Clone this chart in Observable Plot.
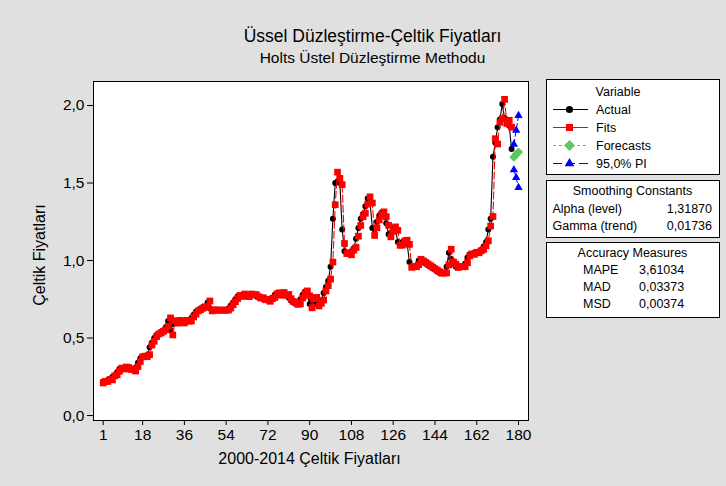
<!DOCTYPE html>
<html>
<head>
<meta charset="utf-8">
<script src="https://cdn.jsdelivr.net/npm/d3@7"></script>
<script src="https://cdn.jsdelivr.net/npm/@observablehq/plot@0.6"></script>
<style>
  html, body { margin: 0; padding: 0; background: #e0e0e0; }
  #wrap { position: relative; width: 726px; height: 486px; background: #e0e0e0; overflow: hidden;
          font-family: "Liberation Sans", Arial, sans-serif; color: #000; }
  .abs { position: absolute; white-space: nowrap; }
  #chart { position: absolute; left: 0; top: 0; }
  #legend { position: absolute; left: 0; top: 0; }
</style>
</head>
<body>
<div id="wrap">
  <div class="abs" style="left:0;width:745px;text-align:center;top:26px;font-size:17.5px;">Üssel Düzleştirme-Çeltik Fiyatları</div>
  <div class="abs" style="left:0;width:745px;text-align:center;top:49px;font-size:15.5px;">Holts Üstel Düzleştirme Methodu</div>
  <div id="chart"></div>
  <div class="abs" style="left:0;width:619px;text-align:center;top:450px;font-size:16px;">2000-2014 Çeltik Fiyatları</div>
  <div class="abs" style="left:40px;top:255px;font-size:16px;transform:translate(-50%,-50%) rotate(-90deg);">Çeltik Fiyatları</div>
  <svg id="legend" width="726" height="486"></svg>
</div>
<script>
// ---- data ----
const xTicks = [1, 18, 36, 54, 72, 90, 108, 126, 144, 162, 180];
const yTicks = [0, 0.5, 1.0, 1.5, 2.0];

const actual = [
  0.22,0.22,0.23,0.23,0.25,0.26,0.28,0.30,0.30,0.31,
  0.31,0.30,0.30,0.29,0.31,0.34,0.37,0.38,0.38,0.39,
  0.44,0.47,0.50,0.52,0.53,0.54,0.55,0.57,0.61,0.55,
  0.59,0.60,0.61,0.61,0.60,0.61,0.61,0.61,0.63,0.65,
  0.67,0.68,0.69,0.70,0.70,0.73,0.69,0.68,0.68,0.68,
  0.68,0.68,0.68,0.68,0.69,0.71,0.73,0.75,0.77,0.77,
  0.78,0.78,0.77,0.78,0.78,0.78,0.77,0.76,0.76,0.75,
  0.75,0.74,0.75,0.76,0.78,0.79,0.78,0.79,0.78,0.78,
  0.76,0.74,0.73,0.72,0.72,0.75,0.78,0.80,0.78,0.72,
  0.74,0.76,0.72,0.72,0.74,0.79,0.83,0.87,0.96,1.27,
  1.50,1.51,1.50,1.20,1.06,1.05,1.04,1.06,1.08,1.14,
  1.21,1.27,1.30,1.35,1.40,1.38,1.21,1.20,1.25,1.29,
  1.31,1.29,1.24,1.17,1.18,1.21,1.20,1.12,1.10,1.12,
  1.13,1.11,0.99,0.96,0.96,0.97,1.00,1.00,0.99,0.98,
  0.97,0.96,0.95,0.94,0.93,0.92,0.92,0.92,0.96,1.05,
  1.01,0.98,0.96,0.96,0.96,0.96,0.98,1.02,1.04,1.04,
  1.05,1.05,1.06,1.07,1.09,1.12,1.20,1.27,1.67,1.76,
  1.86,1.91,2.01,1.92,1.90,1.87,1.72
];

const fits = [
  0.21,0.22,0.22,0.233,0.23,0.256,0.263,0.286,0.306,0.30,
  0.313,0.31,0.297,0.30,0.287,0.316,0.349,0.379,0.383,0.38,
  0.393,0.455,0.479,0.509,0.526,0.533,0.543,0.553,0.576,0.63,
  0.52,0.612,0.596,0.614,0.609,0.597,0.614,0.609,0.61,0.636,
  0.654,0.675,0.682,0.692,0.702,0.699,0.739,0.675,0.682,0.68,
  0.68,0.68,0.68,0.68,0.68,0.693,0.715,0.735,0.755,0.775,
  0.768,0.784,0.779,0.767,0.784,0.78,0.78,0.767,0.758,0.76,
  0.747,0.75,0.737,0.754,0.762,0.785,0.792,0.776,0.794,0.776,
  0.781,0.754,0.736,0.728,0.717,0.721,0.759,0.787,0.804,0.772,
  0.695,0.754,0.762,0.707,0.724,0.745,0.804,0.838,0.88,0.99,
  1.36,1.57,1.53,1.49,1.11,1.045,1.05,1.037,1.067,1.084,
  1.157,1.226,1.283,1.305,1.364,1.411,1.371,1.162,1.211,1.262,
  1.298,1.314,1.283,1.227,1.153,1.188,1.217,1.195,1.098,1.10,
  1.126,1.131,1.104,0.956,0.962,0.96,0.973,1.008,0.998,0.988,
  0.978,0.968,0.958,0.948,0.938,0.928,0.918,0.92,0.92,0.972,
  1.073,0.991,0.977,0.955,0.962,0.96,0.96,0.986,1.03,1.043,
  1.04,1.053,1.05,1.063,1.072,1.095,1.127,1.222,1.284,1.786,
  1.752,1.892,1.915,2.04,1.884,1.905,1.86
];

const forecastIdx = [178, 179, 180];
const forecast = [1.667, 1.685, 1.70];
const upperPI = [1.75, 1.84, 1.935];
const lowerPI = [1.585, 1.535, 1.47];

const smoothingLabels = ["Alpha (level)", "Gamma (trend)"];
const smoothingValues = ["1,31870", "0,01736"];
const accuracyLabels = ["MAPE", "MAD", "MSD"];
const accuracyValues = ["3,61034", "0,03373", "0,00374"];

// ---- build tables ----
const actualData = actual.map((v, i) => ({t: i + 1, v}));
const fitsData = fits.map((v, i) => ({t: i + 1, v}));
const fcData = forecastIdx.map((t, i) => ({t, v: forecast[i]}));
const upData = forecastIdx.map((t, i) => ({t, v: upperPI[i]}));
const loData = forecastIdx.map((t, i) => ({t, v: lowerPI[i]}));

const GREEN = "#5ec85e";
const diamond = {
  draw(ctx, size) {
    const r = Math.sqrt(size / 2);
    ctx.moveTo(0, -r); ctx.lineTo(r, 0); ctx.lineTo(0, r); ctx.lineTo(-r, 0); ctx.closePath();
  }
};
const fmt = d => d.toFixed(1).replace(".", ",");

const chart = Plot.plot({
  width: 726,
  height: 486,
  marginLeft: 93,
  marginRight: 198,
  marginTop: 81,
  marginBottom: 66,
  style: {background: "transparent", fontFamily: '"Liberation Sans", Arial, sans-serif', fontSize: "15.5px", color: "black"},
  x: {domain: [-3.18, 184.31]},
  y: {domain: [-0.032, 2.155]},
  marks: [
    Plot.frame({fill: "white", stroke: "none"}),
    Plot.axisY({ticks: yTicks, tickFormat: fmt, tickSize: 6, tickPadding: 3, label: null}),
    Plot.axisX({ticks: xTicks, tickFormat: d => String(d), tickSize: 5, tickPadding: 3, label: null}),
    Plot.line(actualData, {x: "t", y: "v", stroke: "black", strokeWidth: 1.1}),
    Plot.dot(actualData, {x: "t", y: "v", fill: "black", stroke: "none", symbol: "circle", r: 3}),
    Plot.line(fitsData, {x: "t", y: "v", stroke: "red", strokeWidth: 1.1, strokeDasharray: "7,3"}),
    Plot.dot(fitsData, {x: "t", y: "v", fill: "red", stroke: "none", symbol: "square", r: 3.8}),
    Plot.line(fcData, {x: "t", y: "v", stroke: GREEN, strokeWidth: 1, strokeDasharray: "3,2"}),
    Plot.dot(fcData, {x: "t", y: "v", fill: GREEN, stroke: "none", symbol: diamond, r: 3.7}),
    Plot.line(upData, {x: "t", y: "v", stroke: "blue", strokeWidth: 1, strokeDasharray: "5,3"}),
    Plot.line(loData, {x: "t", y: "v", stroke: "blue", strokeWidth: 1, strokeDasharray: "5,3"}),
    Plot.dot(upData, {x: "t", y: "v", fill: "blue", stroke: "none", symbol: "triangle", r: 3.1}),
    Plot.dot(loData, {x: "t", y: "v", fill: "blue", stroke: "none", symbol: "triangle", r: 3.1}),
    Plot.frame({stroke: "black", strokeWidth: 1})
  ]
});
document.getElementById("chart").appendChild(chart);

// ---- legend boxes ----
const svg = d3.select("#legend");
const ff = '"Liberation Sans", Arial, sans-serif';
function box(x, y, w, h) {
  svg.append("rect").attr("x", x + 0.5).attr("y", y + 0.5).attr("width", w).attr("height", h)
    .attr("fill", "white").attr("stroke", "black").attr("stroke-width", 1);
}
function txt(x, y, s, anchor) {
  svg.append("text").attr("x", x).attr("y", y).attr("dy", "0.35em")
    .attr("text-anchor", anchor || "start").attr("font-family", ff).attr("font-size", 12.5)
    .attr("fill", "black").text(s);
}
box(546, 79, 173, 95);
box(546, 180, 173, 57);
box(546, 242, 173, 75);

txt(618, 92, "Variable", "middle");
const legendItems = [
  {name: "Actual", color: "black", dash: null, sym: d3.symbolCircle, size: 40},
  {name: "Fits", color: "red", dash: null, sym: d3.symbolSquare, size: 50},
  {name: "Forecasts", color: GREEN, dash: "3,3", sym: diamond, size: 60},
  {name: "95,0% PI", color: "blue", dash: "9,4", sym: d3.symbolTriangle, size: 40}
];
legendItems.forEach((it, i) => {
  const y = 109.5 + i * 18;
  const ln = svg.append("line").attr("x1", 553).attr("x2", 588).attr("y1", y).attr("y2", y)
    .attr("stroke", it.color).attr("stroke-width", 1.2);
  if (it.dash) ln.attr("stroke-dasharray", it.dash);
  svg.append("path").attr("d", d3.symbol(it.sym, it.size)()).attr("transform", `translate(569.5,${y})`)
    .attr("fill", it.color);
  txt(596, y, it.name);
});

txt(632.5, 191, "Smoothing Constants", "middle");
smoothingLabels.forEach((s, i) => {
  txt(552.5, 208.5 + i * 17.5, s);
  txt(712, 208.5 + i * 17.5, smoothingValues[i], "end");
});

txt(632.5, 253, "Accuracy Measures", "middle");
accuracyLabels.forEach((s, i) => {
  txt(583, 270 + i * 17, s);
  txt(639, 270 + i * 17, accuracyValues[i]);
});
</script>
</body>
</html>
